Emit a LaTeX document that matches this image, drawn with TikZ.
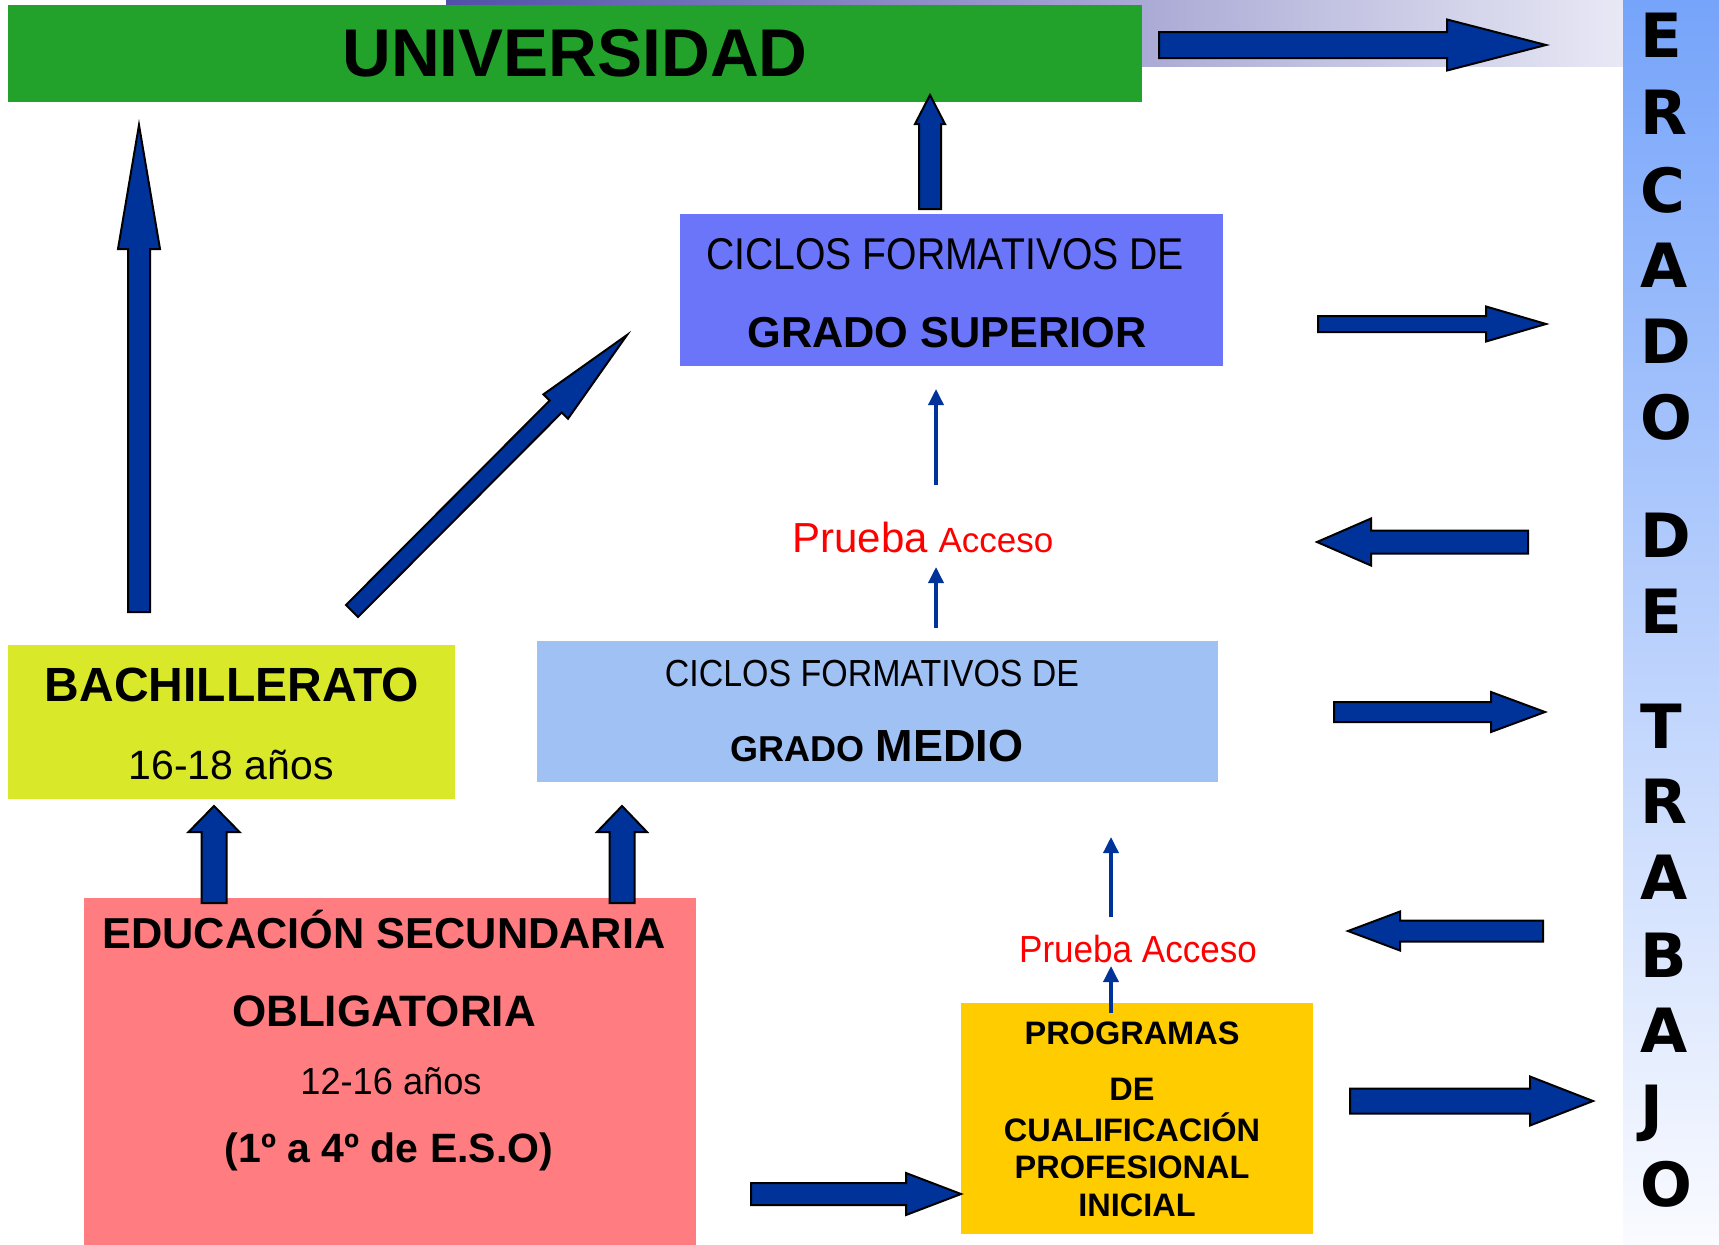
\documentclass[tikz,border=0pt]{standalone}
\usepackage{fontspec}
\setmainfont{Liberation Sans}
\newfontfamily\colfont{DejaVu Sans}
\usetikzlibrary{calc,arrows.meta}
\definecolor{univgreen}{RGB}{34,162,42}
\definecolor{supblue}{RGB}{107,117,250}
\definecolor{medblue}{RGB}{160,193,244}
\definecolor{bachyellow}{RGB}{217,232,41}
\definecolor{esored}{RGB}{255,124,128}
\definecolor{progyellow}{RGB}{255,204,0}
\definecolor{arrowblue}{RGB}{0,51,153}
\definecolor{accred}{RGB}{255,0,0}
\definecolor{bandl}{RGB}{80,80,168}
\definecolor{bandr}{RGB}{232,232,245}
\definecolor{colt}{RGB}{118,164,250}
\definecolor{colb}{RGB}{250,251,255}
\newcommand{\fsz}[1]{\fontsize{#1}{#1}\selectfont}
\newcommand{\blockarrow}[5]{%
  \coordinate (ba) at ($(#2)!#5pt!(#1)$);
  \filldraw[barrow] ($(#1)!#3pt!90:(#2)$) -- ($(ba)!#3pt!-90:(#1)$) -- ($(ba)!#4pt!-90:(#1)$) -- (#2)
    -- ($(ba)!#4pt!90:(#1)$) -- ($(ba)!#3pt!90:(#1)$) -- ($(#1)!#3pt!-90:(#2)$) -- cycle;}
\tikzset{
  box/.style={rectangle, inner sep=0pt, outer sep=0pt},
  rtxt/.style={inner sep=0pt, anchor=base},
  thinarrow/.style={draw=arrowblue, line width=3.5pt, -{Triangle[length=16pt,width=15pt]}},
  barrow/.style={fill=arrowblue, draw=black, line width=2pt},
  mletter/.style={inner sep=0pt, anchor=base west, font={\colfont\bfseries\fsz{61}}}
}
\begin{document}
\begin{tikzpicture}[x=1pt, y=-1pt]
  \useasboundingbox (0,0) rectangle (1719,1245);
  \shade[left color=bandl, right color=bandr] (446,0) rectangle (1623,66);
  \shade[top color=colt, bottom color=colb] (1623,0) rectangle (1719,1245);
  \node[box, fill=univgreen, minimum width=1134pt, minimum height=97pt, font=\bfseries\fsz{67.5}] (univ) at (575,53.5) {UNIVERSIDAD};
  \node[box, fill=supblue, minimum width=543pt, minimum height=152pt] (gs) at (951.5,290) {};
  \node[box, fill=medblue, minimum width=681pt, minimum height=141pt] (gm) at (877.5,711.5) {};
  \node[box, fill=bachyellow, minimum width=447pt, minimum height=154pt] (bach) at (231.5,722) {};
  \node[box, fill=esored, minimum width=612pt, minimum height=347pt] (eso) at (390,1071.5) {};
  \node[box, fill=progyellow, minimum width=352pt, minimum height=231pt] (prog) at (1137,1118.5) {};
  \node[rtxt, xscale=0.88, font=\fsz{44.5}] (gs1) at (945,269) {CICLOS FORMATIVOS DE};
  \node[rtxt, font=\bfseries\fsz{43.3}] (gs2) at (947,347) {GRADO SUPERIOR};
  \node[rtxt, text=accred, font=\fsz{38}] (pa1) at (923,552) {{\fsz{42}Prueba} {\fsz{35}Acceso}};
  \node[rtxt, xscale=0.9, font=\fsz{37.7}] (gm1) at (872,686) {CICLOS FORMATIVOS DE};
  \node[rtxt, font=\bfseries\fsz{41}] (gm2) at (877,761) {{\fsz{36}GRADO} {\fsz{45}MEDIO}};
  \node[rtxt, font=\bfseries\fsz{48}] (bach1) at (232,701) {BACHILLERATO};
  \node[rtxt, font=\fsz{41}] (bach2) at (231,779) {16-18 años};
  \node[rtxt, font=\bfseries\fsz{43.3}] (eso1) at (384,948) {EDUCACIÓN SECUNDARIA};
  \node[rtxt, font=\bfseries\fsz{44}] (eso2) at (384,1026) {OBLIGATORIA};
  \node[rtxt, xscale=0.96, font=\fsz{37.7}] (eso3) at (391,1094) {12-16 años};
  \node[rtxt, font=\bfseries\fsz{41}] (eso4) at (389,1162) {(1º a 4º de E.S.O)};
  \node[rtxt, xscale=0.93, text=accred, font=\fsz{37.7}] (pa2) at (1138,962) {Prueba Acceso};
  \node[rtxt, font=\bfseries\fsz{32.5}] (prog1) at (1132,1044) {PROGRAMAS};
  \node[rtxt, font=\bfseries\fsz{32.5}] (prog2) at (1132,1100) {DE};
  \node[rtxt, font=\bfseries\fsz{32.5}] (prog3) at (1132,1141) {CUALIFICACIÓN};
  \node[rtxt, font=\bfseries\fsz{32.5}] (prog4) at (1132,1178) {PROFESIONAL};
  \node[rtxt, font=\bfseries\fsz{32.5}] (prog5) at (1137,1216) {INICIAL};
  \node[mletter] (m1) at (1640,57) {E};
  \node[mletter] (m2) at (1640,134) {R};
  \node[mletter] (m3) at (1640,212) {C};
  \node[mletter] (m4) at (1640,287) {A};
  \node[mletter] (m5) at (1640,363) {D};
  \node[mletter] (m6) at (1640,439) {O};
  \node[mletter] (m7) at (1640,557) {D};
  \node[mletter] (m8) at (1640,633) {E};
  \node[mletter] (m9) at (1640,748) {T};
  \node[mletter] (m10) at (1640,823) {R};
  \node[mletter] (m11) at (1640,899) {A};
  \node[mletter] (m12) at (1640,977) {B};
  \node[mletter] (m13) at (1640,1052) {A};
  \node[mletter] (m14) at (1640,1129) {J};
  \node[mletter] (m15) at (1640,1206) {O};
  \coordinate (univ-out) at (1159,45);   \coordinate (univ-mt) at (1546,45);
  \coordinate (gs-up) at (930,209);      \coordinate (univ-in) at (930,95);
  \coordinate (bach-up) at (139,612);    \coordinate (univ-left) at (139,125);
  \coordinate (bach-diag) at (352,611);  \coordinate (gs-in) at (627,335);
  \coordinate (gs-out) at (1318,324);    \coordinate (gs-mt) at (1546,324);
  \coordinate (mt-pa1) at (1528,542);    \coordinate (pa1-in) at (1317,542);
  \coordinate (gm-out) at (1334,712);    \coordinate (gm-mt) at (1545,712);
  \coordinate (mt-pa2) at (1543,931);    \coordinate (pa2-in) at (1348,931);
  \coordinate (prog-out) at (1350,1101); \coordinate (prog-mt) at (1593,1101);
  \coordinate (eso-prog) at (751,1194);  \coordinate (prog-in) at (961,1194);
  \coordinate (eso-bach) at (214,903);   \coordinate (bach-in) at (214,806);
  \coordinate (eso-gm) at (622,903);     \coordinate (gm-in) at (622,806);
  \coordinate (pa1-top) at (936,485);    \coordinate (gs-bot) at (936,389);
  \coordinate (gm-top) at (936,628);     \coordinate (pa1-bot) at (936,567);
  \coordinate (pa2-top) at (1111,917);   \coordinate (gm-bot) at (1111,837);
  \coordinate (prog-top) at (1111,1013); \coordinate (pa2-bot) at (1111,966);
  \blockarrow{univ-out}{univ-mt}{13}{25.5}{99}
  \blockarrow{gs-up}{univ-in}{11}{15}{29}
  \blockarrow{bach-up}{univ-left}{11}{21}{124}
  \blockarrow{bach-diag}{gs-in}{8.5}{17.3}{101}
  \blockarrow{gs-out}{gs-mt}{8}{17.5}{60}
  \blockarrow{mt-pa1}{pa1-in}{11.5}{23.5}{54}
  \blockarrow{gm-out}{gm-mt}{10}{20}{54}
  \blockarrow{mt-pa2}{pa2-in}{10.5}{19.5}{52}
  \blockarrow{prog-out}{prog-mt}{12.5}{24.5}{63}
  \blockarrow{eso-prog}{prog-in}{11}{21}{55}
  \blockarrow{eso-bach}{bach-in}{12.5}{25.5}{26}
  \blockarrow{eso-gm}{gm-in}{12.5}{25}{26}
  \draw[thinarrow] (pa1-top) -- (gs-bot);
  \draw[thinarrow] (gm-top) -- (pa1-bot);
  \draw[thinarrow] (pa2-top) -- (gm-bot);
  \draw[thinarrow] (prog-top) -- (pa2-bot);
\end{tikzpicture}
\end{document}
